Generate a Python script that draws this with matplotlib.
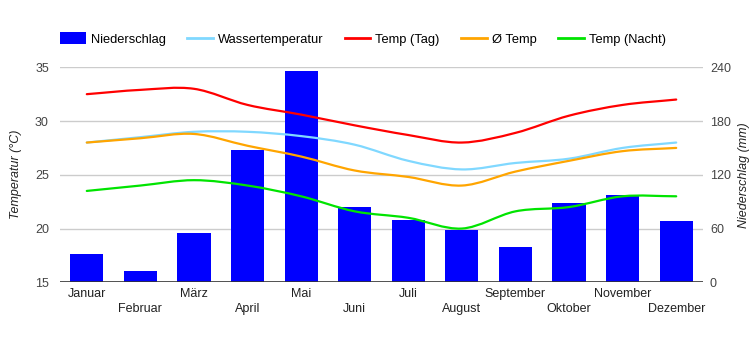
import numpy as np
import matplotlib
matplotlib.use("Agg")
import matplotlib.pyplot as plt
from matplotlib.path import Path
from matplotlib.patches import PathPatch, Patch
from matplotlib.lines import Line2D

plt.rcParams['font.family'] = ['Liberation Sans', 'DejaVu Sans']

months = ["Januar", "Februar", "März", "April", "Mai", "Juni", "Juli",
          "August", "September", "Oktober", "November", "Dezember"]
niederschlag = [32, 13, 55, 148, 236, 84, 69, 58, 39, 88, 97, 68]
wassertemp = [28.0, 28.5, 29.0, 29.0, 28.6, 27.8, 26.3, 25.5, 26.1, 26.5, 27.5, 28.0]
temp_tag = [32.5, 32.9, 33.0, 31.5, 30.6, 29.6, 28.7, 28.0, 28.9, 30.5, 31.5, 32.0]
temp_avg = [28.0, 28.4, 28.8, 27.7, 26.7, 25.4, 24.8, 24.0, 25.3, 26.3, 27.2, 27.5]
temp_nacht = [23.5, 24.0, 24.5, 24.0, 23.0, 21.6, 21.0, 20.0, 21.6, 22.0, 23.0, 23.0]

C_BAR = "#0000ff"
C_WATER = "#80d8ff"
C_DAY = "#ff0000"
C_AVG = "#ffa500"
C_NIGHT = "#00e400"

fig = plt.figure(figsize=(7.5, 3.5), dpi=100)
ax2 = fig.add_axes([60/750, 1-282.3/350, 643/750, 215/350])  # bars (right axis)
ax = ax2.twinx()
ax.yaxis.tick_left(); ax.yaxis.set_label_position("left")
ax2.yaxis.tick_right(); ax2.yaxis.set_label_position("right")

x = np.arange(len(months))
ax2.bar(x, niederschlag, width=0.62, color=C_BAR, zorder=2)
ax2.set_ylim(0, 240)
ax2.set_yticks([0, 60, 120, 180, 240])
ax2.set_xlim(-0.5, 11.5)

def smooth_path(xs, ys, t=0.33):
    xs = np.asarray(xs, float); ys = np.asarray(ys, float)
    n = len(xs)
    verts = [(xs[0], ys[0])]; codes = [Path.MOVETO]
    def slope(i):
        if i == 0:
            return (ys[1]-ys[0])/(xs[1]-xs[0])
        if i == n-1:
            return (ys[-1]-ys[-2])/(xs[-1]-xs[-2])
        return (ys[i+1]-ys[i-1])/(xs[i+1]-xs[i-1])
    for i in range(n-1):
        dx = xs[i+1]-xs[i]
        m0, m1 = slope(i), slope(i+1)
        verts += [(xs[i]+dx*t, ys[i]+m0*dx*t),
                  (xs[i+1]-dx*t, ys[i+1]-m1*dx*t),
                  (xs[i+1], ys[i+1])]
        codes += [Path.CURVE4]*3
    return Path(verts, codes)

for ys, c in [(wassertemp, C_WATER), (temp_tag, C_DAY), (temp_avg, C_AVG), (temp_nacht, C_NIGHT)]:
    ax.add_patch(PathPatch(smooth_path(x, ys), fill=False, edgecolor=c, lw=1.6,
                           capstyle='round', joinstyle='round', zorder=3))

ax.set_ylim(15, 35)
ax.set_yticks([15, 20, 25, 30, 35])
ax.set_xlim(-0.5, 11.5)
ax2.set_zorder(1); ax.set_zorder(2); ax.patch.set_visible(False)

for v in [20, 25, 30, 35]:
    ax2.axhline((v-15)/20*240, color="#cccccc", lw=1, zorder=0)
ax2.axhline(0, color="#333333", lw=1.2, zorder=4)

for a in (ax, ax2):
    for s in a.spines.values():
        s.set_visible(False)
ax.tick_params(axis='y', length=0, pad=8, labelsize=9, labelcolor="#444444")
ax2.tick_params(axis='y', length=0, pad=5, labelsize=9, labelcolor="#444444")

ax2.set_xticks(x)
ax2.set_xticklabels([("" if i % 2 == 0 else "\n") + m for i, m in enumerate(months)],
                    fontsize=9, color="#222222", linespacing=1.3)
ax2.tick_params(axis='x', length=0, pad=4)
ax.tick_params(axis='x', length=0, labelbottom=False)

ax.set_ylabel("Temperatur (°C)", fontsize=9, style='italic', color="#222222", labelpad=9)
ax2.set_ylabel("Niederschlag (mm)", fontsize=9, style='italic', color="#222222", labelpad=5)

handles = [Patch(facecolor=C_BAR, edgecolor='none'),
           Line2D([], [], color=C_WATER, lw=2),
           Line2D([], [], color=C_DAY, lw=2),
           Line2D([], [], color=C_AVG, lw=2),
           Line2D([], [], color=C_NIGHT, lw=2)]
labels = ["Niederschlag", "Wassertemperatur", "Temp (Tag)", "Ø Temp", "Temp (Nacht)"]
fig.legend(handles, labels, loc='center left', bbox_to_anchor=(60/750, 1-39/350), ncol=5,
           frameon=False, fontsize=9.3, handlelength=2.0, handleheight=1.05,
           handletextpad=0.38, columnspacing=1.65, borderaxespad=0, borderpad=0)

fig.savefig("out.png", dpi=100)
